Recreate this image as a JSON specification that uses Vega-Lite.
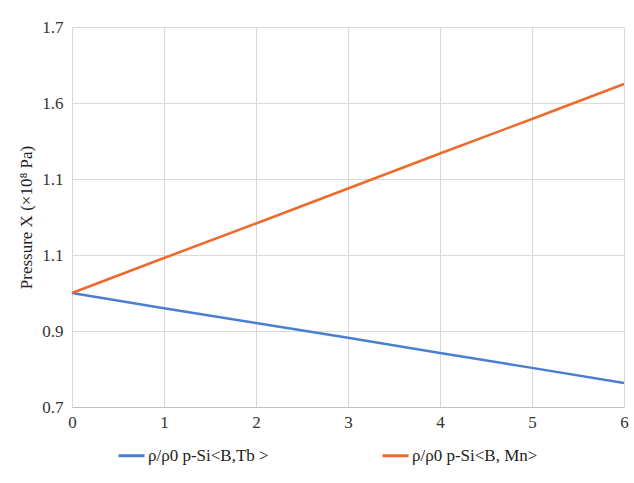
{
  "$schema": "https://vega.github.io/schema/vega-lite/v6.json",
  "width": 552,
  "height": 380,
  "autosize": "none",
  "padding": {"left": 72, "top": 27, "right": 10, "bottom": 76},
  "background": "white",
  "data": {
    "values": [
      {"x": 0, "y": 1.0, "s": "ρ/ρ0 p-Si<B,Tb >"},
      {"x": 1, "y": 0.960, "s": "ρ/ρ0 p-Si<B,Tb >"},
      {"x": 2, "y": 0.921, "s": "ρ/ρ0 p-Si<B,Tb >"},
      {"x": 3, "y": 0.882, "s": "ρ/ρ0 p-Si<B,Tb >"},
      {"x": 4, "y": 0.842, "s": "ρ/ρ0 p-Si<B,Tb >"},
      {"x": 5, "y": 0.803, "s": "ρ/ρ0 p-Si<B,Tb >"},
      {"x": 6, "y": 0.763, "s": "ρ/ρ0 p-Si<B,Tb >"},
      {"x": 0, "y": 1.0, "s": "ρ/ρ0 p-Si<B, Mn>"},
      {"x": 1, "y": 1.092, "s": "ρ/ρ0 p-Si<B, Mn>"},
      {"x": 2, "y": 1.183, "s": "ρ/ρ0 p-Si<B, Mn>"},
      {"x": 3, "y": 1.275, "s": "ρ/ρ0 p-Si<B, Mn>"},
      {"x": 4, "y": 1.367, "s": "ρ/ρ0 p-Si<B, Mn>"},
      {"x": 5, "y": 1.458, "s": "ρ/ρ0 p-Si<B, Mn>"},
      {"x": 6, "y": 1.55, "s": "ρ/ρ0 p-Si<B, Mn>"}
    ]
  },
  "mark": {"type": "line", "strokeWidth": 2.5},
  "encoding": {
    "x": {
      "field": "x", "type": "quantitative",
      "scale": {"domain": [0, 6], "nice": false},
      "axis": {"values": [0, 1, 2, 3, 4, 5, 6], "title": null, "tickSize": 0, "labelPadding": 7, "domainColor": "#bfbfbf", "labelFlush": false}
    },
    "y": {
      "field": "y", "type": "quantitative",
      "scale": {"domain": [0.7, 1.7], "nice": false, "zero": false},
      "axis": {
        "values": [0.7, 0.9, 1.1, 1.3, 1.5, 1.7],
        "labelExpr": "datum.value < 0.8 ? '0.7' : datum.value < 1.0 ? '0.9' : datum.value < 1.4 ? '1.1' : datum.value < 1.6 ? '1.6' : '1.7'",
        "title": "Pressure X (×10⁸ Pa)",
        "tickSize": 0, "labelPadding": 9, "domain": false, "titlePadding": 6
      }
    },
    "color": {
      "field": "s", "type": "nominal",
      "scale": {"domain": ["ρ/ρ0 p-Si<B,Tb >", "ρ/ρ0 p-Si<B, Mn>"], "range": ["#4a7fd0", "#ee6a2b"]},
      "legend": {
        "title": null, "orient": "none", "legendX": 45, "legendY": 414, "direction": "horizontal",
        "symbolType": "stroke", "symbolSize": 676, "symbolStrokeWidth": 3, "labelOffset": 2,
        "columnPadding": 107, "labelLimit": 300
      }
    }
  },
  "config": {
    "font": "Liberation Serif",
    "view": {"stroke": null},
    "axis": {"gridColor": "#d9d9d9", "gridWidth": 1, "labelFont": "Liberation Serif", "labelFontSize": 17, "labelColor": "#333333", "titleFont": "Liberation Serif", "titleFontSize": 17, "titleFontWeight": "normal", "titleColor": "#222222"},
    "legend": {"labelFont": "Liberation Serif", "labelFontSize": 17, "labelColor": "#222222"}
  }
}
